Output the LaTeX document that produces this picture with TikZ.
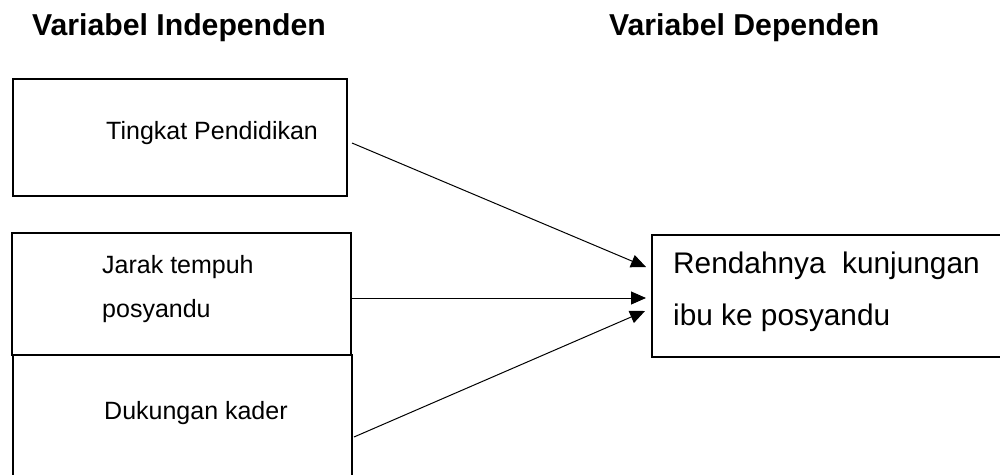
\documentclass[tikz,border=0pt]{standalone}
\usepackage{fontspec}
\setmainfont{Liberation Sans}
\usetikzlibrary{arrows.meta}
\begin{document}
\begin{tikzpicture}[x=1pt,y=-1pt,
  box/.style={draw,line width=2pt,inner sep=0pt,outer sep=0pt,anchor=north west},
  lbl/.style={anchor=base west,inner sep=0pt,font=\fontsize{25}{30}\selectfont},
  big/.style={anchor=base west,inner sep=0pt,font=\fontsize{29.8}{34}\selectfont},
  ttl/.style={anchor=base west,inner sep=0pt,font=\fontsize{30.2}{34}\selectfont\bfseries},
  arr/.style={line width=1pt,-{Triangle[length=15pt,width=13pt]}}]
\useasboundingbox (0,0) rectangle (1000,474);
\clip (0,0) rectangle (1000,474);
% titles
\node[ttl] (t1) at (32,35) {Variabel Independen};
\node[ttl] (t2) at (609,35) {Variabel Dependen};
% boxes
\node[box,minimum width=334pt,minimum height=117pt] (b1) at (13,79) {};
\node[box,minimum width=339pt,minimum height=122pt] (b2) at (12,233) {};
\node[box,minimum width=339pt,minimum height=150pt] (b3) at (13,355) {};
\node[box,minimum width=353pt,minimum height=122pt] (b4) at (652,235) {};
% texts
\node[lbl] (l1) at (106,139) {Tingkat Pendidikan};
\node[lbl] (l2a) at (102,273) {Jarak tempuh};
\node[lbl] (l2b) at (102,317) {posyandu};
\node[lbl] (l3) at (104,419) {Dukungan kader};
\node[big] (l4a) at (673,273) {Rendahnya\ \ kunjungan};
\node[big] (l4b) at (673,325) {ibu ke posyandu};
% arrows
\coordinate (s1) at (352,143);
\coordinate (e1) at (646,267);
\coordinate (s2) at (352,298);
\coordinate (e2) at (646,298);
\coordinate (s3) at (354,437);
\coordinate (e3) at (645,311);
\draw[arr] (s1) -- (e1);
\draw[arr] (s2) -- (e2);
\draw[arr] (s3) -- (e3);
\end{tikzpicture}
\end{document}
